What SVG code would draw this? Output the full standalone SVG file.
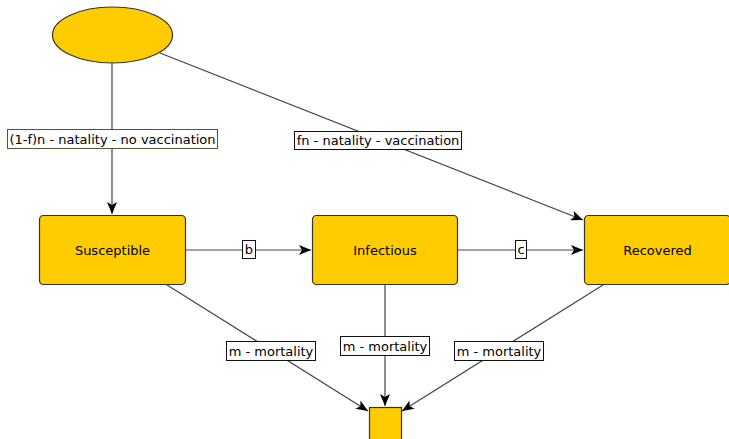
<svg xmlns="http://www.w3.org/2000/svg" width="729" height="439" viewBox="0 0 729 439">
<style>
.node{fill:#ffcc00;stroke:#333;stroke-width:1.2}
.edge{fill:none;stroke:#444;stroke-width:1.2}
.lbl{fill:#fff;stroke:#111;stroke-width:1}
text{font-family:"DejaVu Sans",sans-serif;font-size:13px;fill:#000}
.c{text-anchor:middle}
</style>
<defs>
<marker id="arr" viewBox="0 0 12 10" refX="12" refY="5" markerWidth="12" markerHeight="10" markerUnits="userSpaceOnUse" orient="auto">
<path d="M0,0 L12,5 L0,10 L3,5 z" fill="#000"/>
</marker>
</defs>
<g id="connectors">
<path class="edge" d="M112,63 L112,214" marker-end="url(#arr)"/>
<path class="edge" d="M160,53 L583,220" marker-end="url(#arr)"/>
<path class="edge" d="M186,250 L311,250" marker-end="url(#arr)"/>
<path class="edge" d="M458,250 L583,250" marker-end="url(#arr)"/>
<path class="edge" d="M167,285 L368,411" marker-end="url(#arr)"/>
<path class="edge" d="M385,285 L385,406" marker-end="url(#arr)"/>
<path class="edge" d="M603,285 L402,411" marker-end="url(#arr)"/>
<rect x="7.5" y="129.5" width="210" height="19" fill="#fff" stroke="#555533"/>
<text x="112.5" y="144" class="c">(1-f)n - natality - no vaccination</text>
<rect class="lbl" x="294.5" y="131.5" width="167" height="18"/>
<text x="378" y="145" class="c">fn - natality - vaccination</text>
<rect class="lbl" x="242.5" y="240.5" width="13" height="18"/>
<text x="249" y="254" class="c">b</text>
<rect class="lbl" x="515.5" y="240.5" width="11" height="18"/>
<text x="521" y="254" class="c">c</text>
<rect class="lbl" x="226.5" y="341.5" width="89" height="19"/>
<text x="271" y="356" class="c">m - mortality</text>
<rect class="lbl" x="340.5" y="336.5" width="89" height="19"/>
<text x="385" y="351" class="c">m - mortality</text>
<rect class="lbl" x="454.5" y="341.5" width="89" height="19"/>
<text x="499" y="356" class="c">m - mortality</text>
</g>
<g id="source">
<ellipse class="node" cx="112.5" cy="35" rx="60" ry="28"/>
</g>
<g id="susceptible">
<rect class="node" x="39.5" y="215.5" width="146" height="69" rx="4"/>
<text x="112.5" y="255" class="c">Susceptible</text>
</g>
<g id="infectious">
<rect class="node" x="312.5" y="215.5" width="145" height="69" rx="4"/>
<text x="385" y="255" class="c">Infectious</text>
</g>
<g id="recovered">
<rect class="node" x="584.5" y="215.5" width="146" height="69" rx="4"/>
<text x="657.5" y="255" class="c">Recovered</text>
</g>
<g id="sink">
<rect class="node" x="369.5" y="407.5" width="32" height="40"/>
</g>
</svg>
